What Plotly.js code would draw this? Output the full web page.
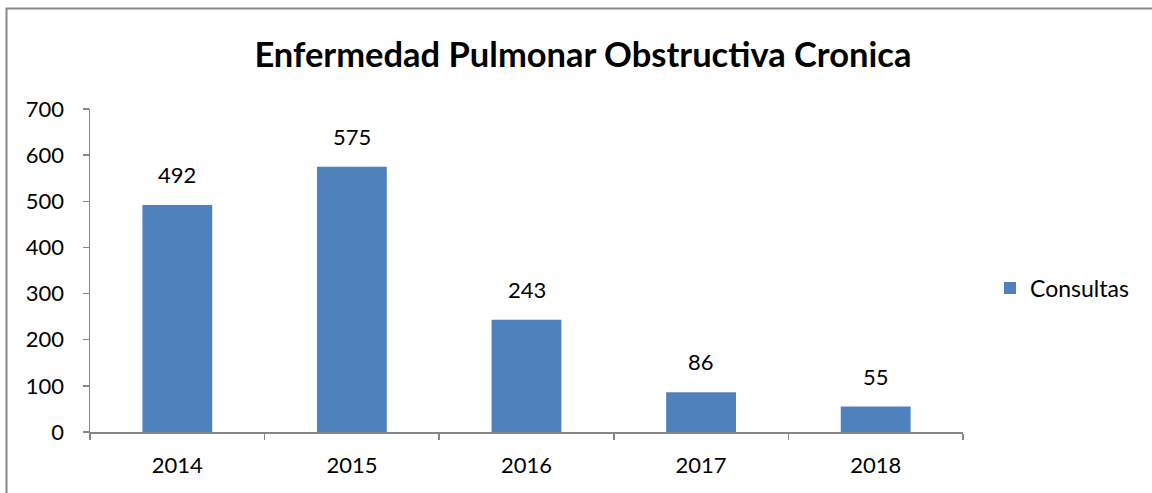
<!DOCTYPE html>
<html>
<head>
<meta charset="utf-8">
<script src="https://cdn.plot.ly/plotly-3.0.1.min.js"></script>
<style>html,body{margin:0;padding:0;background:#fff;}#chart{width:1152px;height:493px;}</style>
</head>
<body>
<div id="chart"></div>
<script>
const categories = ["2014", "2015", "2016", "2017", "2018"];
const consultas = [492, 575, 243, 86, 55];
const seriesName = "Consultas";
const yTicks = [0, 100, 200, 300, 400, 500, 600, 700];

const W = 1152, H = 493, L = 90, R = 189, T = 109, B = 61;
const pw = W - L - R, ph = H - T - B;
const px = v => (v - L) / pw;
const py = v => (H - B - v) / ph;

const font = "Lato, 'Liberation Sans', Arial, sans-serif";
const fs = 22;

const trace = {
  type: "bar",
  x: categories,
  y: consultas,
  name: seriesName,
  width: 0.4,
  marker: {color: "#4F81BD"},
  showlegend: true,
  hoverinfo: "x+y"
};

const annotations = categories.map((c, i) => ({
  x: i, y: consultas[i], xref: "x", yref: "y",
  text: String(consultas[i]), showarrow: false,
  yanchor: "bottom", yshift: 15,
  font: {family: font, size: fs, color: "#000"}
}));

const layout = {
  width: W, height: H,
  margin: {l: L, r: R, t: T, b: B},
  paper_bgcolor: "#fff", plot_bgcolor: "#fff",
  font: {family: font, size: fs, color: "#000"},
  title: {text: "<b>Enfermedad Pulmonar Obstructiva Cronica</b>", font: {family: font, size: 34.5, color: "#000"},
          x: 0.506, xanchor: "center", y: 0.888, yanchor: "middle"},
  xaxis: {
    type: "category", range: [-0.5, categories.length - 0.5], autorange: false,
    showgrid: false, zeroline: false,
    showline: true, linecolor: "#868686", linewidth: 1.5,
    ticks: "outside", tickson: "boundaries", ticklen: 6, tickcolor: "#868686", tickwidth: 1.5,
    ticklabelstandoff: 13, tickangle: 0,
    tickfont: {family: font, size: fs, color: "#000"}
  },
  yaxis: {
    range: [0, 700], autorange: false, tickvals: yTicks, ticktext: yTicks.map(String),
    showgrid: false, zeroline: false,
    showline: true, linecolor: "#868686", linewidth: 1.5,
    ticks: "outside", ticklen: 6, tickcolor: "#868686", tickwidth: 1.5,
    ticklabelstandoff: 14,
    tickfont: {family: font, size: fs, color: "#000"}
  },
  legend: {x: px(990), y: py(288), xanchor: "left", yanchor: "middle",
           font: {family: font, size: 23, color: "#000"}, bgcolor: "rgba(0,0,0,0)"},
  annotations: annotations,
  shapes: [{type: "rect", xref: "paper", yref: "paper",
            x0: px(6.5), x1: px(1160), y0: py(500), y1: py(8.5),
            line: {color: "#888", width: 2}, fillcolor: "rgba(0,0,0,0)", layer: "below"}]
};

Plotly.newPlot("chart", [trace], layout, {displayModeBar: false, staticPlot: true});
</script>
</body>
</html>
